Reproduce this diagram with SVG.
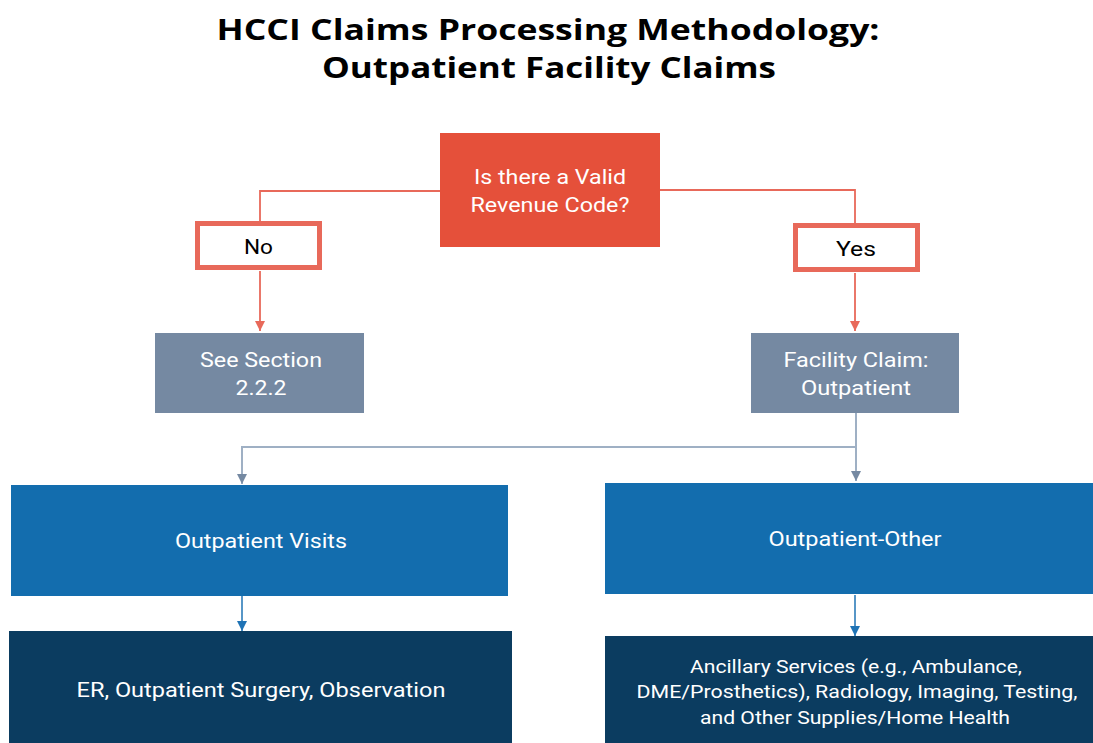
<svg xmlns="http://www.w3.org/2000/svg" width="1093" height="743" viewBox="0 0 1093 743">
<style>
.title{font-family:"Open Sans","Liberation Sans",sans-serif;font-weight:700;font-size:29px;fill:#000;text-anchor:middle}
.t{font-family:Roboto,"Liberation Sans",sans-serif;font-size:21px;text-anchor:middle;fill:#fff}
.tk{font-family:Roboto,"Liberation Sans",sans-serif;font-size:21px;text-anchor:middle;fill:#000}
.t2{font-family:Roboto,"Liberation Sans",sans-serif;font-size:19px;text-anchor:middle;fill:#fff}
.red{stroke:#E8695A;stroke-width:1.8;fill:none}
.gray{stroke:#9FB0C4;stroke-width:2;fill:none}
.blue{stroke:#1F73B5;stroke-width:1.5;fill:none}
</style>
<defs>
<marker id="ar" viewBox="0 0 10 10" refX="10" refY="5" markerWidth="11" markerHeight="10" markerUnits="userSpaceOnUse" orient="auto"><path d="M0,0 L10,5 L0,10 z" fill="#E8695A"/></marker>
<marker id="ag" viewBox="0 0 10 10" refX="10" refY="5" markerWidth="11" markerHeight="10" markerUnits="userSpaceOnUse" orient="auto"><path d="M0,0 L10,5 L0,10 z" fill="#7589A2"/></marker>
<marker id="ab" viewBox="0 0 10 10" refX="10" refY="5" markerWidth="11" markerHeight="10" markerUnits="userSpaceOnUse" orient="auto"><path d="M0,0 L10,5 L0,10 z" fill="#1F73B5"/></marker>
</defs>
<rect width="1093" height="743" fill="#fff"/>
<g id="title">
<text class="title" x="548" y="40" textLength="663" lengthAdjust="spacingAndGlyphs">HCCI Claims Processing Methodology:</text>
<text class="title" x="549" y="78" textLength="454" lengthAdjust="spacingAndGlyphs">Outpatient Facility Claims</text>
</g>
<g id="connectors">
<path class="red" d="M440,191 H260 V222"/>
<path class="red" d="M660,190 H855 V224"/>
<path class="red" d="M260,271 V331" marker-end="url(#ar)"/>
<path class="red" d="M855,273 V331" marker-end="url(#ar)"/>
<path class="gray" d="M856,413 V447 H242 V484" marker-end="url(#ag)"/>
<path class="gray" d="M856,447 V481" marker-end="url(#ag)"/>
<path class="blue" d="M242,596 V631" marker-end="url(#ab)"/>
<path class="blue" d="M855,595 V636" marker-end="url(#ab)"/>
</g>
<g id="decision">
<rect x="440" y="133" width="220" height="114" fill="#E5503A"/>
<text class="t" x="550" y="184" textLength="152" lengthAdjust="spacingAndGlyphs">Is there a Valid</text>
<text class="t" x="550" y="212" textLength="159" lengthAdjust="spacingAndGlyphs">Revenue Code?</text>
</g>
<g id="no">
<rect x="197.5" y="223.5" width="122" height="44" fill="#fff" stroke="#E8695A" stroke-width="5"/>
<text class="tk" x="258.5" y="254" textLength="29" lengthAdjust="spacingAndGlyphs">No</text>
</g>
<g id="yes">
<rect x="795.5" y="225.5" width="122" height="44" fill="#fff" stroke="#E8695A" stroke-width="5"/>
<text class="tk" x="856" y="256" textLength="40" lengthAdjust="spacingAndGlyphs">Yes</text>
</g>
<g id="section">
<rect x="155" y="333" width="209" height="80" fill="#7589A2"/>
<text class="t" x="261" y="367" textLength="122" lengthAdjust="spacingAndGlyphs">See Section</text>
<text class="t" x="261" y="395" textLength="51" lengthAdjust="spacingAndGlyphs">2.2.2</text>
</g>
<g id="facility">
<rect x="751" y="333" width="208" height="80" fill="#7589A2"/>
<text class="t" x="856" y="367" textLength="145" lengthAdjust="spacingAndGlyphs">Facility Claim:</text>
<text class="t" x="856" y="395" textLength="110" lengthAdjust="spacingAndGlyphs">Outpatient</text>
</g>
<g id="visits">
<rect x="11" y="485" width="497" height="111" fill="#136DAE"/>
<text class="t" x="261" y="548" textLength="172" lengthAdjust="spacingAndGlyphs">Outpatient Visits</text>
</g>
<g id="other">
<rect x="605" y="483" width="488" height="111" fill="#136DAE"/>
<text class="t" x="855" y="546" textLength="173" lengthAdjust="spacingAndGlyphs">Outpatient-Other</text>
</g>
<g id="er">
<rect x="9" y="631" width="503" height="112" fill="#0B3C60"/>
<text class="t" x="261" y="697" textLength="369" lengthAdjust="spacingAndGlyphs">ER, Outpatient Surgery, Observation</text>
</g>
<g id="ancillary">
<rect x="605" y="636" width="488" height="107" fill="#0B3C60"/>
<text class="t2" x="856" y="673" textLength="332" lengthAdjust="spacingAndGlyphs">Ancillary Services (e.g., Ambulance,</text>
<text class="t2" x="857" y="698" textLength="441" lengthAdjust="spacingAndGlyphs">DME/Prosthetics), Radiology, Imaging, Testing,</text>
<text class="t2" x="855" y="724" textLength="310" lengthAdjust="spacingAndGlyphs">and Other Supplies/Home Health</text>
</g>
</svg>
